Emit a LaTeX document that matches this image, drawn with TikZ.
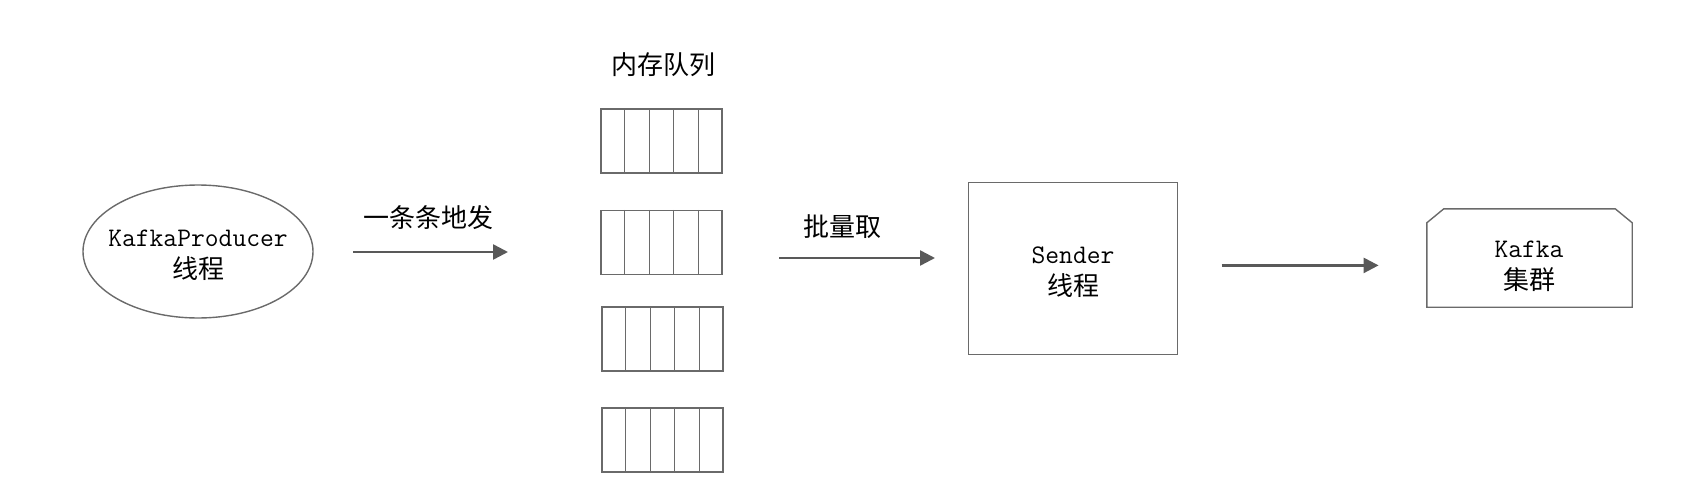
\documentclass[tikz,border=0pt]{standalone}
\usepackage{fontspec}
\newfontfamily\cjk{Noto Sans CJK SC}
\usetikzlibrary{shapes.geometric,arrows.meta,calc}
\definecolor{linegray}{HTML}{6A6A6A}
\definecolor{arrowgray}{HTML}{595959}
\begin{document}
\begin{tikzpicture}[x=1pt,y=-1pt,
  shapeline/.style={draw=linegray,line width=1.4pt},
  txt/.style={font=\ttfamily\fontsize{26.8}{32}\selectfont,align=center,inner sep=0pt},
  cjlbl/.style={font=\cjk\fontsize{26}{32}\selectfont,inner sep=0pt},
  flow/.style={draw=arrowgray,line width=2.5pt,-{Triangle[length=15pt,width=15pt]}},
  queue/.style={shapeline,minimum width=121pt,minimum height=64pt,inner sep=0pt}]
\useasboundingbox (0,0) rectangle (1684,503);

% producer
\node[shapeline,ellipse,minimum width=230pt,minimum height=133pt] (prod) at (198,251.5) {};
\node[txt] (prodtxt) at (198,255) {KafkaProducer\\{\cjk\fontsize{26}{32}\selectfont 线程}};

% arrow 1
\coordinate (a1s) at (353,252);
\coordinate (a1e) at (508,252);
\draw[flow] (a1s) -- (a1e);
\node[cjlbl] (lbl1) at (428,218) {一条条地发};

% queues
\node[cjlbl] (qtitle) at (663.5,65) {内存队列};
\node[queue] (q1) at (661.5,141) {};
\node[queue] (q2) at (661.5,242.5) {};
\node[queue] (q3) at (662.5,339) {};
\node[queue] (q4) at (662.5,440) {};
\foreach \q in {q1,q2,q3,q4}{
  \foreach \i in {1,2,3,4}{
    \draw[shapeline] ($(\q.north west)!\i/5!(\q.north east)$) -- ($(\q.south west)!\i/5!(\q.south east)$);
  }
}

% arrow 2
\coordinate (a2s) at (779,258);
\coordinate (a2e) at (935,258);
\draw[flow] (a2s) -- (a2e);
\node[cjlbl] (lbl2) at (842,227) {批量取};

% sender
\node[shapeline,minimum width=209.5pt,minimum height=172pt] (sender) at (1073,268.6) {};
\node[txt] (sendertxt) at (1073,272) {Sender\\{\cjk\fontsize{26}{32}\selectfont 线程}};

% arrow 3
\coordinate (a3s) at (1221.7,265.4);
\coordinate (a3e) at (1378.6,265.4);
\draw[flow] (a3s) -- (a3e);

% kafka cluster
\node[minimum width=205pt,minimum height=98pt,inner sep=0pt] (kafka) at (1529.5,258) {};
\draw[shapeline] (kafka.south west) -- ($(kafka.north west)+(0,14)$) -- ($(kafka.north west)+(17,0)$)
  -- ($(kafka.north east)+(-17,0)$) -- ($(kafka.north east)+(0,14)$) -- (kafka.south east) -- cycle;
\node[txt] (kafkatxt) at (1529,266) {Kafka\\{\cjk\fontsize{26}{32}\selectfont 集群}};
\end{tikzpicture}
\end{document}
